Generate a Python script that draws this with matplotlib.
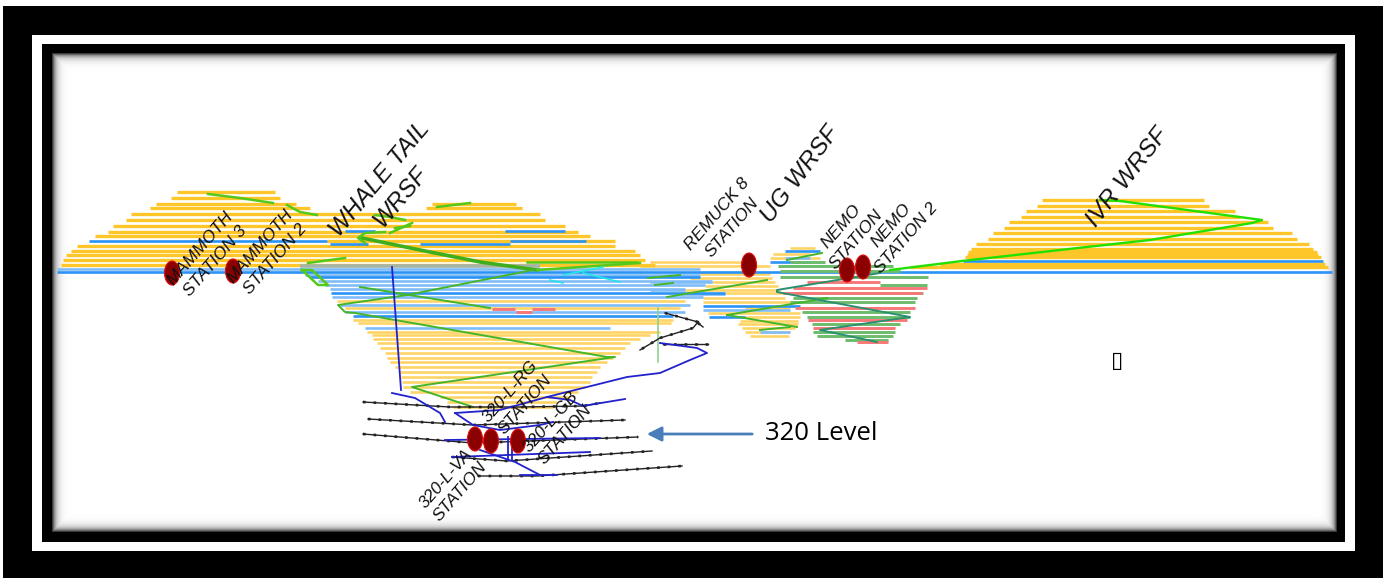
import numpy as np
import matplotlib
matplotlib.use("Agg")
import matplotlib.pyplot as plt
from matplotlib.patches import Rectangle, Ellipse

# bench rows: level, start, end
orange_y = [192, 198, 204, 204, 208, 208, 214, 220, 226, 232, 236, 241, 246, 251, 255, 260, 265,
            200, 206, 211, 217, 222, 228, 233, 239, 244, 249, 252, 255, 257, 264, 267]
orange_x0 = [177, 171, 156, 432, 150, 426, 131, 126, 113, 108, 95, 327, 77, 71, 66, 63, 61,
             1042, 1037, 1026, 1021, 1009, 1004, 993, 988, 976, 971, 968, 967, 965, 940, 910]
orange_x1 = [275, 280, 296, 516, 310, 522, 540, 545, 565, 578, 590, 615, 615, 635, 640, 645, 655,
             1204, 1209, 1235, 1240, 1268, 1273, 1292, 1297, 1309, 1313, 1317, 1318, 1321, 1325, 1328]

pit_y = [301, 308, 320, 323, 332, 335, 339, 343, 348, 353, 358, 362, 367, 372, 377, 382, 387, 392, 397, 402, 407,
         262, 266, 274, 278, 282, 286, 290, 293, 298, 302, 308, 313, 317, 321, 324, 328, 332, 336,
         248, 254, 258]
pit_x0 = [337, 345, 353, 358, 367, 372, 373, 377, 380, 385, 387, 390, 395, 400, 401, 402, 403, 410, 440, 447, 453,
          650, 640, 700, 690, 712, 705, 685, 725, 703, 703, 745, 708, 745, 740, 738, 742, 745, 750,
          790, 773, 770]
pit_x1 = [685, 680, 673, 671, 660, 650, 640, 630, 625, 620, 613, 607, 600, 597, 592, 590, 585, 578, 570, 557, 553,
          742, 770, 770, 772, 775, 778, 780, 790, 785, 795, 790, 800, 800, 798, 798, 795, 790, 789,
          815, 810, 820]

blue_y = [241, 231, 231, 241, 244, 244, 272, 277, 293, 316, 261, 251, 262, 306, 317]
blue_x0 = [89, 345, 505, 510, 330, 420, 57, 310, 331, 353, 963, 785, 770, 703, 709]
blue_x1 = [327, 375, 565, 586, 368, 510, 1332, 700, 725, 673, 1323, 820, 810, 800, 745]

pale_y = [269, 275, 281, 285, 289, 297, 305, 312, 328, 258, 282, 290, 294, 310, 332]
pale_x0 = [57, 305, 318, 325, 330, 332, 340, 345, 365, 785, 650, 650, 680, 703, 760]
pale_x1 = [700, 700, 712, 705, 685, 703, 690, 685, 610, 810, 712, 685, 725, 790, 790]

green_y = [266, 271, 277, 285, 293, 298, 302, 312, 317, 324, 332, 336, 340, 262]
green_x0 = [778, 780, 780, 880, 793, 793, 790, 802, 807, 812, 813, 817, 845, 790]
green_x1 = [893, 900, 928, 927, 923, 917, 915, 910, 910, 900, 895, 893, 888, 825]

red_y = [282, 288, 293, 308, 320, 328, 342, 309, 312, 309]
red_x0 = [807, 793, 783, 795, 808, 813, 857, 492, 516, 532]
red_x1 = [880, 927, 922, 915, 907, 895, 888, 515, 532, 555]

band_y = [266]
band_x0 = [300]
band_x1 = [540]

# ramps, as (x, y) points along the section
whale_ramp = [(362, 238), (420, 250), (480, 262), (537, 270)]
mound_ramps = [[(208, 194), (240, 198), (273, 203)], [(287, 205), (300, 212), (317, 215)],
               [(308, 263), (345, 258)], [(375, 215), (390, 217), (405, 220)], [(437, 207), (470, 203)],
               [(302, 270), (312, 270), (328, 285), (318, 285), (302, 270)],
               [(537, 270), (640, 263)], [(527, 262), (637, 262)],
               [(390, 233), (412, 223)], [(395, 228), (410, 226)],
               [(385, 232), (365, 233), (358, 238), (365, 243)]]
pit_ramps = [[(533, 270), (407, 295), (338, 305), (345, 312), (355, 313), (607, 357), (615, 357),
              (412, 387), (473, 407)], [(360, 287), (490, 308)],
             [(667, 297), (767, 280)], [(648, 278), (680, 275)], [(655, 285), (673, 283)],
             [(727, 315), (827, 298)], [(727, 315), (797, 327)], [(760, 330), (790, 327)], [(787, 260), (822, 253)]]
nemo_ramps = [[(880, 273), (777, 290), (777, 292), (910, 317), (820, 330), (877, 342)]]
ivr_ramp = [(890, 270), (962, 261), (1060, 250), (1150, 240), (1252, 223), (1262, 220), (1120, 201), (1100, 200)]
cyan_paths = [[(550, 280), (563, 283)], [(563, 275), (603, 267)], [(583, 273), (620, 282)]]
survey_line = [(658, 308), (658, 362)]

# underground levels and development
levels = [[(363, 402), (450, 407), (520, 407), (583, 406), (600, 403)],
          [(368, 419), (473, 425), (625, 420)],
          [(363, 434), (473, 443), (638, 437)],
          [(452, 457), (507, 461), (652, 451)],
          [(478, 476), (537, 476), (682, 466)],
          [(665, 313), (698, 322), (693, 328), (660, 338), (640, 350)],
          [(663, 344), (708, 344)], [(698, 323), (703, 327)]]
development = [[(392, 267), (401, 390)],
               [(392, 393), (415, 398), (440, 413), (445, 422)],
               [(455, 413), (473, 425), (500, 430), (540, 425), (553, 422)],
               [(455, 413), (500, 410), (547, 397), (627, 377), (660, 373), (690, 360), (707, 353), (697, 348), (660, 343)],
               [(547, 397), (570, 400), (583, 406), (625, 399)],
               [(445, 440), (600, 438)], [(452, 457), (590, 452)],
               [(520, 475), (557, 475)], [(508, 437), (508, 460)], [(512, 437), (512, 460)],
               [(480, 450), (515, 462), (540, 475)]]

station_x = [172, 233, 475, 491, 518, 749, 847, 863]
station_y = [273, 271, 439, 441, 441, 265, 270, 267]

small_labels = ["MAMMOTH\nSTATION 3", "MAMMOTH\nSTATION 2", "REMUCK 8\nSTATION", "NEMO\nSTATION",
                "NEMO\nSTATION 2", "320-L-VA\nSTATION", "320-L-RG\nSTATION", "320-L-GB\nSTATION"]
small_x = [208, 268, 725, 849, 899, 453, 518, 558]
small_y = [255, 253, 221, 233, 232, 485, 398, 428]

big_labels = ["WHALE TAIL\nWRSF", "UG WRSF", "IVR WRSF"]
big_x = [390, 800, 1127]
big_y = [188, 174, 177]
big_rotation = [50, 53, 52]

fig = plt.figure(figsize=(13.89, 5.78), dpi=100)
ax = fig.add_axes([0, 0, 1, 1])
ax.axis('off')

# picture frame
ax.add_patch(Rectangle((3, 6), 1380, 572, color="black", lw=0))
ax.add_patch(Rectangle((32, 35), 1323, 516, color="white", lw=0))
ax.add_patch(Rectangle((42, 44), 1303, 498, color="black", lw=0))

# soft inner shadow of the frame
px = np.arange(52, 1337) + 0.5
py = np.arange(53, 532) + 0.5
dist = np.minimum.outer(np.minimum(py - 53, 532 - py), np.minimum(px - 52, 1337 - px))
ax.imshow(1 - np.exp(-dist / 3.5) * 0.9, cmap="gray", vmin=0, vmax=1, aspect="auto",
          extent=(52, 1337, 532, 53), zorder=1)

ax.hlines(pit_y, pit_x0, pit_x1, color="#ffd466", lw=1.9, zorder=2)
ax.hlines(orange_y, orange_x0, orange_x1, color="#ffc629", lw=2.4, zorder=2)
ax.hlines(band_y, band_x0, band_x1, color="#a3b4a8", lw=2.6, zorder=3)
ax.hlines(pale_y, pale_x0, pale_x1, color="#7fbcf8", lw=1.9, zorder=3)
ax.hlines(blue_y, blue_x0, blue_x1, color="#2b93f5", lw=1.9, zorder=3)
ax.hlines(green_y, green_x0, green_x1, color="#6dbb6d", lw=2.1, zorder=3)
ax.hlines(red_y, red_x0, red_x1, color="#f8787a", lw=2.1, zorder=3)


def draw_path(points, color, lw, z=4, **kw):
    xs, ys = zip(*points)
    ax.plot(xs, ys, color=color, lw=lw, zorder=z, solid_joinstyle="round", **kw)


draw_path(whale_ramp, "#3fae1e", 2.6)
for path in mound_ramps:
    draw_path(path, "#55c81c", 1.8)
for path in pit_ramps:
    draw_path(path, "#45b52a", 1.4)
for path in nemo_ramps:
    draw_path(path, "#2a9070", 1.4)
draw_path(ivr_ramp, "#22e000", 1.7)
for path in cyan_paths:
    draw_path(path, "#25e6e6", 1.2)
draw_path(survey_line, "#8fd08f", 1.2)
for path in levels:
    draw_path(path, "#222222", 1.0, z=5)
    # the drives are ticked along their length
    xs, ys = zip(*path)
    ax.plot(xs, ys, color="#222222", lw=1.9, ls=(0, (1, 3)), zorder=5)
for path in development:
    draw_path(path, "#2222cc", 1.3, z=6)

for x, y in zip(station_x, station_y):
    ax.add_patch(Ellipse((x, y), 15, 24, facecolor="#8b0000", edgecolor="#e01010", lw=0.8, zorder=7))

for label, x, y in zip(small_labels, small_x, small_y):
    ax.text(x, y, label, rotation=49, ha="center", va="center", family="Liberation Sans",
            style="italic", fontsize=12.5, linespacing=1.4, color="#111111", zorder=8)
for label, x, y, rot in zip(big_labels, big_x, big_y, big_rotation):
    ax.text(x, y, label, rotation=rot, ha="center", va="center", family="Liberation Sans",
            style="italic", fontsize=17.5, linespacing=1.25, color="#111111", zorder=8)

# callout
ax.annotate("", xy=(644, 434), xytext=(755, 434),
            arrowprops=dict(arrowstyle="-|>", color="#4a7ebb", lw=2, mutation_scale=22), zorder=8)
ax.text(765, 433, "320 Level", ha="left", va="center", family="Open Sans", fontsize=18.5, color="black", zorder=8)
ax.text(1117, 361, "\u25af", ha="center", va="center", family="DejaVu Sans", fontsize=16, color="black", zorder=8)

ax.set_xlim(0, 1389)
ax.set_ylim(578, 0)
fig.savefig("out.png", dpi=100)
